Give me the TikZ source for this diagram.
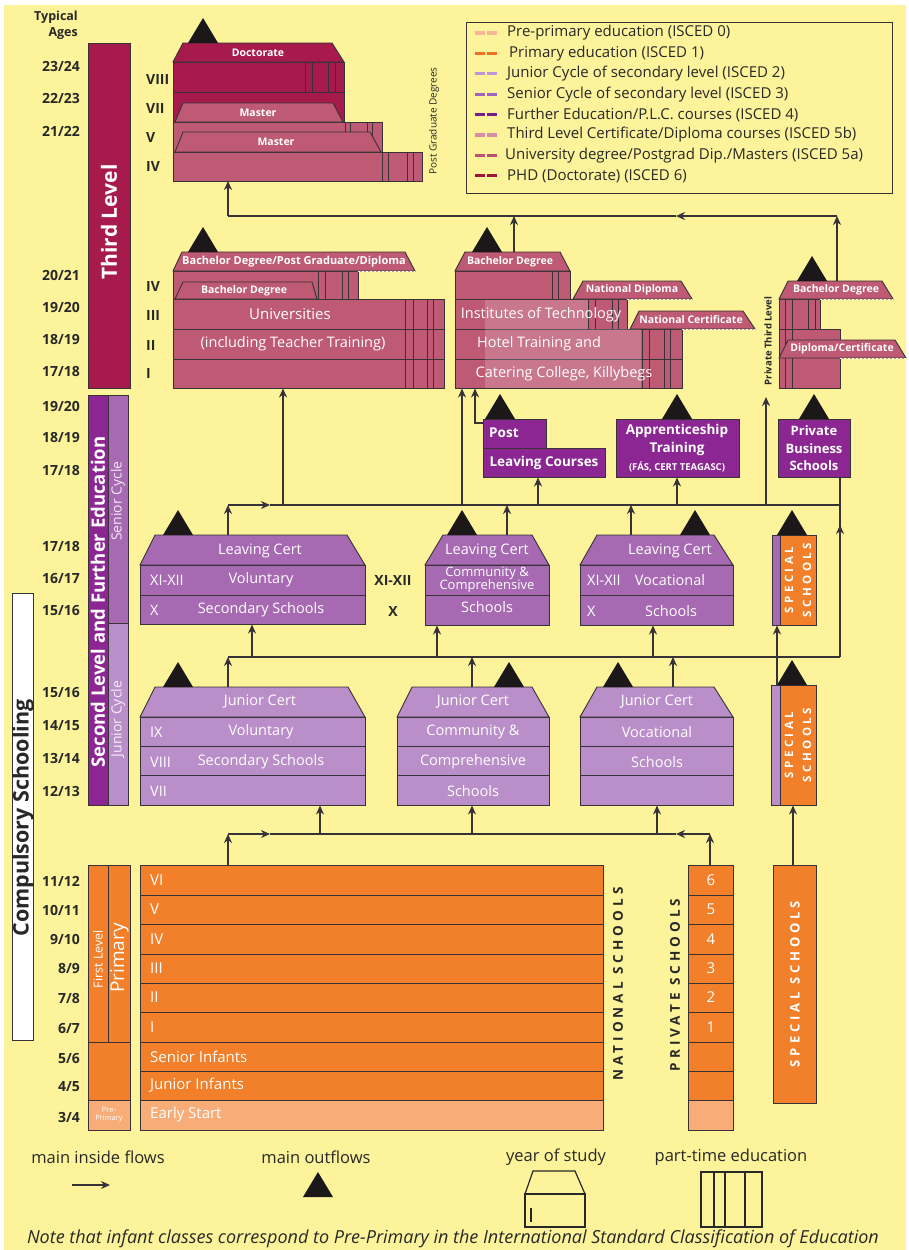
\documentclass[tikz,border=0pt]{standalone}
\usepackage{fontspec}
\setmainfont{Open Sans}
\newfontfamily\spc[LetterSpace=30]{Open Sans}
\usetikzlibrary{arrows.meta}
\definecolor{bgy}{RGB}{252,243,154}
\definecolor{phd}{RGB}{166,27,76}
\definecolor{univ}{RGB}{190,90,115}
\definecolor{further}{RGB}{140,38,146}
\definecolor{senior}{RGB}{166,105,178}
\definecolor{junior}{RGB}{186,142,200}
\definecolor{prim}{RGB}{242,128,42}
\definecolor{preprim}{RGB}{248,173,120}
\definecolor{linec}{RGB}{55,50,55}
\definecolor{txtc}{RGB}{40,40,40}
\definecolor{tricol}{RGB}{28,24,26}
\definecolor{lg0}{RGB}{248,182,150}
\definecolor{lg1}{RGB}{240,110,40}
\definecolor{lg2}{RGB}{190,150,215}
\definecolor{lg3}{RGB}{160,100,190}
\definecolor{lg4}{RGB}{120,30,140}
\definecolor{lg5}{RGB}{215,140,170}
\definecolor{lg6}{RGB}{190,80,115}
\definecolor{lg7}{RGB}{160,20,60}
\newcommand\xblk[6]{\node[blkst, fill=#6, anchor=north west, inner sep=0pt, outer sep=0pt, minimum width={(#4)-(#2)}, minimum height={(#5)-(#3)}] (#1) at (#2,#3) {};}
\newcommand\xroof[7]{\filldraw[blkst, fill=#7] (#5,#2) -- (#3,#1) -- (#4,#1) -- (#6,#2) -- cycle;}
\newcommand\xpt[3]{\foreach \xx in {#3} {\draw[ptl] (\xx,#1) -- (\xx,#2);}}
\newcommand\xtri[2]{\fill[tricol] (#1,#2) -- ++(-15,25) -- ++(30,0) -- cycle;}
\newcommand\xdash[3]{\draw[white, line width=1pt, dash pattern=on 2pt off 2pt] (#2,#1) -- (#3,#1);}
\tikzset{
 blkst/.style={draw=linec, line width=0.9pt},
 ptl/.style={draw=linec, line width=0.9pt},
 flowline/.style={draw=linec, line width=1.7pt},
 flow/.style={flowline, -{Stealth[length=9pt,width=8pt]}},
 boxl/.style={text=white, inner sep=0pt, font=\fontsize{14.5}{16}\selectfont},
 boxb/.style={text=white, inner sep=0pt, align=center, font=\bfseries\fontsize{13.5}{17.5}\selectfont},
 roofl/.style={text=white, inner sep=0pt, font=\bfseries\fontsize{10.5}{11}\selectfont},
 age/.style={text=txtc, inner sep=0pt, anchor=east, font=\bfseries\fontsize{14}{16}\selectfont},
 roman/.style={text=txtc, inner sep=0pt, anchor=west, font=\bfseries\fontsize{14}{16}\selectfont},
 vlab/.style={rotate=90, inner sep=0pt},
 legt/.style={text=txtc, inner sep=0pt, anchor=west, font=\fontsize{15}{16}\selectfont},
 blab/.style={text=txtc, inner sep=0pt, font=\fontsize{16.5}{18}\selectfont}
}
\begin{document}
\begin{tikzpicture}[x=1pt,y=-1pt]
\useasboundingbox (0,0) rectangle (909,1250);
\fill[white] (0,0) rectangle (909,1250);
\fill[bgy] (4,5) rectangle (906,1250);

% ---------- ages ----------
\node[age, align=right, font=\bfseries\fontsize{12.5}{16}\selectfont] (typ) at (78,25) {Typical\\Ages};
\foreach \yy/\a/\b [count=\i] in {66/23/24, 98/22/23, 131/21/22, 275/20/21, 307/19/20, 340/18/19, 372/17/18, 406/19/20, 438/18/19, 471/17/18, 546/17/18, 579/16/17, 611/15/16, 693/15/16, 726/14/15, 758/13/14, 791/12/13, 881/11/12, 910/10/11, 939/9/10, 968/8/9, 998/7/8, 1028/6/7, 1058/5/6, 1087/4/5, 1117/3/4}
  {\node[age] (age\i) at (80,\yy) {\a/\b};}
\foreach \yy/\r [count=\i] in {80/VIII, 109/VII, 138/V, 167/IV, 286/IV, 315/III, 345/II, 373/I}
  {\node[roman] (rom\i) at (146,\yy) {\r};}

% ---------- level bars ----------
\xblk{tlbar}{88}{43}{130}{388}{phd}
\node[vlab, text=white, font=\bfseries\fontsize{21}{22}\selectfont] (tltxt) at (109,222) {Third Level};
\xblk{slbar}{88}{395}{108}{805}{further}
\xblk{scbar}{108}{395}{128}{623}{senior}
\xblk{jcbar}{108}{623}{128}{805}{junior}
\node[vlab, text=white, font=\bfseries\fontsize{18.5}{19}\selectfont] (sltxt) at (98,602) {Second Level and Further Education};
\node[vlab, text=white!85!senior, font=\fontsize{14}{15}\selectfont] (sctxt) at (118,501) {Senior Cycle};
\node[vlab, text=white!85!junior, font=\fontsize{14}{15}\selectfont] (jctxt) at (118,719) {Junior Cycle};
\xblk{compbox}{12}{593}{33}{1040}{white}
\node[vlab, text=txtc, font=\bfseries\fontsize{21.5}{22}\selectfont] (comptxt) at (23,818) {Compulsory Schooling};

% ---------- doctorate / masters ----------
\xblk{phd8}{173}{62}{344}{92}{phd}
\xblk{phd7}{173}{92}{344}{122}{phd}
\xblk{pg5}{173}{122}{382}{152}{univ}
\xblk{pg4}{173}{152}{422}{181}{univ}
\xpt{62}{92}{305,312,328,335}
\xpt{122}{152}{345,350,367,372}
\xpt{152}{181}{382,388,407,413}
\xroof{43}{62}{183}{332}{173}{344}{phd}
\node[roofl] (docl) at (258,53) {Doctorate};
\xroof{103}{122}{183}{333}{175}{343}{univ}
\node[roofl] (ms1) at (258,113) {Master};
\xroof{132}{152}{183}{370}{175}{381}{univ}
\node[roofl] (ms2) at (276,142) {Master};
\xtri{203}{18}
\node[vlab, text=txtc, font=\fontsize{10}{11}\selectfont] (pgd) at (434,121) {Post Graduate Degrees};

% ---------- universities ----------
\xblk{uni4}{173}{271}{358}{299}{univ}
\xblk{uni3}{173}{299}{444}{329}{univ}
\xblk{uni2}{173}{329}{444}{359}{univ}
\xblk{uni1}{173}{359}{444}{388}{univ}
\xpt{271}{299}{318,325,342,348}
\xpt{299}{388}{405,413,427,433}
\xroof{252}{271}{182}{405}{173}{415}{univ}
\xdash{271}{358}{415}
\node[roofl, font=\bfseries\fontsize{11}{11}\selectfont] (bpgd) at (294,262) {Bachelor Degree/Post Graduate/Diploma};
\xroof{282}{299}{183}{312}{175}{317}{univ}
\node[roofl] (bd1) at (244,290.5) {Bachelor Degree};
\node[boxl, font=\fontsize{15}{16}\selectfont] (unit1) at (290,314) {Universities};
\node[boxl, font=\fontsize{14.5}{16}\selectfont] (unit2) at (293,344) {(including Teacher Training)};
\xtri{203}{227}

% ---------- institutes of technology ----------
\xblk{it4}{455}{271}{570}{299}{univ}
\xblk{it3}{455}{299}{627}{329}{univ}
\xblk{it2}{455}{329}{682}{359}{univ}
\xblk{it1}{455}{359}{682}{388}{univ}
\fill[white, opacity=0.18] (485,300) rectangle (588,329);
\fill[white, opacity=0.18] (485,329) rectangle (641,387.5);
\xpt{271}{299}{552,558}
\xpt{299}{329}{588,595,612,618}
\xpt{329}{388}{642,649,664,670}
\xroof{252}{271}{465}{560}{455}{570}{univ}
\node[roofl] (bd2) at (510,262) {Bachelor Degree};
\xroof{281}{299}{583}{681}{573}{692}{univ}
\xdash{299}{627}{692}
\node[roofl] (nd) at (632,290) {National Diploma};
\xroof{311}{329}{639}{743}{630}{755}{univ}
\xdash{329}{682}{755}
\node[roofl] (nc) at (691,320) {National Certificate};
\node[boxl] (itt1) at (541,315) {Institutes of Technology};
\node[boxl] (itt2) at (539,344) {Hotel Training and};
\node[boxl] (itt3) at (564,374) {Catering College, Killybegs};
\xtri{487}{227}

% ---------- private third level ----------
\xblk{ptA}{779}{299}{820}{329}{univ}
\xblk{ptB}{779}{329}{840}{388}{univ}
\xpt{299}{388}{785,792}
\xpt{299}{329}{808,815}
\xroof{281}{299}{788}{882}{779}{893}{univ}
\xdash{299}{820}{893}
\node[roofl] (bd3) at (836,290) {Bachelor Degree};
\xroof{340}{358}{788}{895}{779}{906}{univ}
\xdash{358}{840}{906}
\node[roofl] (dipc) at (842,349) {Diploma/Certificate};
\xtri{812}{256}
\node[vlab, text=txtc, font=\bfseries\fontsize{9.5}{10}\selectfont] (ptltxt) at (768,341) {Private Third Level};

% ---------- further education ----------
\xblk{plcA}{483}{419}{546}{448}{further}
\xblk{plcB}{483}{448}{605}{477}{further}
\node[boxb, anchor=west] (post) at (489,433) {Post};
\node[boxb] (lcrs) at (544,463) {Leaving Courses};
\xblk{appr}{616}{419}{739}{477}{further}
\node[boxb] (apprt) at (677,440) {Apprenticeship\\Training};
\node[boxb, font=\bfseries\fontsize{9.5}{10}\selectfont] (fas) at (677,467) {(FÁS, CERT TEAGASC)};
\xblk{pbs}{778}{419}{850}{477}{further}
\node[boxb, font=\bfseries\fontsize{13}{17.5}\selectfont] (pbst) at (814,448.5) {Private\\Business\\Schools};
\xtri{500}{394}
\xtri{677}{394}
\xtri{814}{394}

% ---------- leaving cert ----------
\xroof{535}{565}{155}{347}{140}{365}{senior}
\xblk{vlc1}{140}{565}{365}{595}{senior}
\xblk{vlc2}{140}{595}{365}{624}{senior}
\node[boxl] (vlct) at (260,551) {Leaving Cert};
\node[boxl, anchor=west] (vlcr1) at (150,580) {XI-XII};
\node[boxl] (vlcn1) at (261,580) {Voluntary};
\node[boxl, anchor=west] (vlcr2) at (150,610) {X};
\node[boxl] (vlcn2) at (261,610) {Secondary Schools};
\xtri{178}{510}
\node[roman, anchor=center] (xo1) at (393,580) {XI-XII};
\node[roman, anchor=center] (xo2) at (393,611) {X};

\xroof{535}{565}{443}{532}{425}{549}{senior}
\xblk{clc1}{425}{565}{549}{595}{senior}
\xblk{clc2}{425}{595}{549}{625}{senior}
\node[boxl] (clct) at (487,551) {Leaving Cert};
\node[boxl, align=center, font=\fontsize{13}{13}\selectfont] (clcn1) at (487,580) {Community \&\\Comprehensive};
\node[boxl] (clcn2) at (487,607) {Schools};
\xtri{462}{510}

\xroof{535}{565}{597}{714}{580}{733}{senior}
\xblk{olc1}{580}{565}{733}{595}{senior}
\xblk{olc2}{580}{595}{733}{625}{senior}
\node[boxl] (olct) at (670,551) {Leaving Cert};
\node[boxl, anchor=west] (olcr1) at (587,580) {XI-XII};
\node[boxl] (olcn1) at (670,580) {Vocational};
\node[boxl, anchor=west] (olcr2) at (587,611) {X};
\node[boxl] (olcn2) at (671,611) {Schools};
\xtri{695}{510}

\xblk{ssA}{772}{535}{780}{625}{senior}
\xblk{ssB}{780}{535}{816}{625}{prim}
\node[vlab, text=white, align=center, font=\spc\bfseries\fontsize{11.5}{18}\selectfont] (sst) at (798,580) {SPECIAL\\SCHOOLS};
\xtri{792}{510}

% ---------- junior cert ----------
\xroof{687}{717}{155}{348}{140}{365}{junior}
\xblk{vjc1}{140}{717}{365}{746}{junior}
\xblk{vjc2}{140}{746}{365}{775}{junior}
\xblk{vjc3}{140}{775}{365}{805}{junior}
\node[boxl] (vjct) at (260,702) {Junior Cert};
\node[boxl, anchor=west] (vjcr1) at (150,732) {IX};
\node[boxl] (vjcn1) at (261,732) {Voluntary};
\node[boxl, anchor=west] (vjcr2) at (150,762) {VIII};
\node[boxl] (vjcn2) at (261,762) {Secondary Schools};
\node[boxl, anchor=west] (vjcr3) at (150,791) {VII};
\xtri{178}{662}

\xroof{687}{717}{412}{532}{397}{549}{junior}
\xblk{cjc1}{397}{717}{549}{746}{junior}
\xblk{cjc2}{397}{746}{549}{775}{junior}
\xblk{cjc3}{397}{775}{549}{805}{junior}
\node[boxl] (cjct) at (473,702) {Junior Cert};
\node[boxl] (cjcn1) at (473,732) {Community \&};
\node[boxl] (cjcn2) at (473,762) {Comprehensive};
\node[boxl] (cjcn3) at (473,791) {Schools};
\xtri{509}{662}

\xroof{687}{717}{597}{714}{580}{733}{junior}
\xblk{ojc1}{580}{717}{733}{746}{junior}
\xblk{ojc2}{580}{746}{733}{775}{junior}
\xblk{ojc3}{580}{775}{733}{805}{junior}
\node[boxl] (ojct) at (657,702) {Junior Cert};
\node[boxl] (ojcn1) at (657,732) {Vocational};
\node[boxl] (ojcn2) at (657,762) {Schools};
\xtri{618}{662}

\xblk{sjA}{771}{685}{780}{805}{junior}
\xblk{sjB}{780}{685}{816}{805}{prim}
\node[vlab, text=white, align=center, font=\spc\bfseries\fontsize{11.5}{18}\selectfont] (sjt) at (798,745) {SPECIAL\\SCHOOLS};
\xtri{792}{660}

% ---------- primary ----------
\xblk{flA}{88}{865}{108}{1042}{prim}
\xblk{flB}{108}{865}{130}{1042}{prim}
\xblk{flC}{88}{1042}{130}{1100}{prim}
\xblk{flD}{88}{1100}{130}{1130}{preprim}
\node[vlab, text=white, font=\fontsize{12.5}{13}\selectfont] (fltxt) at (98,959) {First Level};
\node[vlab, text=white, font=\fontsize{19}{20}\selectfont] (prtxt) at (119.5,958) {Primary};
\node[text=white, inner sep=0pt, align=center, font=\fontsize{7.5}{8}\selectfont] (pptxt) at (109,1115) {Pre-\\Primary};
\foreach \ya/\yb/\lab [count=\i] in {865/895/VI, 895/924/V, 924/954/IV, 954/983/III, 983/1012/II, 1012/1042/I, 1042/1071/Senior Infants, 1071/1100/Junior Infants}
{
  \xblk{nat\i}{140}{\ya}{603}{\yb}{prim}
  \node[boxl, anchor=west, font=\fontsize{15}{16}\selectfont] (natl\i) at (150,{(\ya+\yb)/2}) {\lab};
  \xblk{prv\i}{688}{\ya}{733}{\yb}{prim}
}
\xblk{nat9}{140}{1100}{603}{1130}{preprim}
\node[boxl, anchor=west, font=\fontsize{15}{16}\selectfont] (natl9) at (150,1115) {Early Start};
\xblk{prv9}{688}{1100}{733}{1130}{preprim}
\foreach \n/\yy [count=\i] in {6/880,5/909.5,4/939,3/968.5,2/997.5,1/1027}
  {\node[boxl, font=\fontsize{15}{16}\selectfont] (num\i) at (711,\yy) {\n};}
\node[vlab, text=txtc, font=\spc\bfseries\fontsize{13.5}{14}\selectfont] (natt) at (618,984) {NATIONAL SCHOOLS};
\node[vlab, text=txtc, font=\spc\bfseries\fontsize{13.5}{14}\selectfont] (prvt) at (675,985) {PRIVATE SCHOOLS};
\xblk{spp}{773}{865}{816}{1103}{prim}
\node[vlab, text=white, font=\spc\bfseries\fontsize{13}{14}\selectfont] (sppt) at (795,984) {SPECIAL SCHOOLS};

% ---------- connectors: top ----------
\coordinate (h1L) at (228,216);
\coordinate (h1R) at (837,216);
\coordinate (h1m) at (676,216);
\coordinate (pg4b) at (228,181);
\coordinate (itT) at (514,252);
\coordinate (itU) at (514,216);
\coordinate (pbT) at (837,281);
\draw[flow] (pbT) -- (h1R);
\draw[flow] (h1R) -- (h1m);
\draw[flowline] (h1m) -- (h1L);
\draw[flow] (h1L) -- (pg4b);
\draw[flow] (itT) -- (itU);

% ---------- connectors: level 505 ----------
\coordinate (h2L) at (228,505);
\coordinate (h2m) at (270,505);
\coordinate (h2R) at (840,505);
\coordinate (vlcT) at (228,535);
\draw[flow] (vlcT) -- (h2L);
\draw[flow] (h2L) -- (h2m);
\draw[flowline] (h2m) -- (h2R);
\coordinate (a283) at (283,505); \coordinate (b283) at (283,388.5);
\draw[flow] (a283) -- (b283);
\coordinate (a462) at (462,505); \coordinate (b462) at (462,388.5);
\draw[flow] (a462) -- (b462);
\coordinate (plcL) at (483,423); \coordinate (b475) at (475,388.5);
\draw[flow] (plcL) -| (b475);
\coordinate (clcT) at (507,535); \coordinate (c507) at (507,505);
\draw[flow] (clcT) -- (c507);
\coordinate (a538) at (538,505); \coordinate (plcBot) at (538,477.5);
\draw[flow] (a538) -- (plcBot);
\coordinate (olcT) at (631,535); \coordinate (c631) at (631,505);
\draw[flow] (olcT) -- (c631);
\coordinate (a677) at (677,505); \coordinate (apprBot) at (677,477.5);
\draw[flow] (a677) -- (apprBot);
\coordinate (a766) at (766,505); \coordinate (ptlLab) at (766,397);
\draw[flow] (a766) -- (ptlLab);
\coordinate (r840a) at (840,657); \coordinate (r840m) at (840,525); \coordinate (pbsBot) at (840,477.5);
\draw[flowline] (r840a) -- (pbsBot);
\draw[flow] (r840a) -- (r840m);

% ---------- connectors: level 657 ----------
\coordinate (h3L) at (228,657);
\draw[flowline] (h3L) -- (r840a);
\coordinate (vjcT) at (228,687);
\draw[flow] (vjcT) -- (h3L);
\coordinate (a252) at (252,657); \coordinate (vlcBot) at (252,624.5);
\draw[flow] (a252) -- (vlcBot);
\coordinate (a437) at (437,657); \coordinate (clcBot) at (437,625.5);
\draw[flow] (a437) -- (clcBot);
\coordinate (cjcT) at (472,687); \coordinate (c472) at (472,657);
\draw[flow] (cjcT) -- (c472);
\coordinate (a653) at (653,657); \coordinate (olcBot) at (653,625.5);
\draw[flow] (a653) -- (olcBot);
\coordinate (ojcT) at (673,687); \coordinate (c673) at (673,657);
\draw[flow] (ojcT) -- (c673);
\coordinate (sjT) at (777,685); \coordinate (ssBot) at (777,625.5);
\draw[flow] (sjT) -- (ssBot);

% ---------- connectors: level 834 ----------
\coordinate (h4L) at (228,834);
\coordinate (h4m) at (270,834);
\coordinate (h4R) at (710,834);
\coordinate (h4n) at (676,834);
\coordinate (natT) at (228,865);
\coordinate (prvT) at (710,865);
\draw[flow] (natT) -- (h4L);
\draw[flow] (h4L) -- (h4m);
\draw[flowline] (h4m) -- (h4n);
\draw[flow] (prvT) -- (h4R);
\draw[flow] (h4R) -- (h4n);
\coordinate (a320) at (320,834); \coordinate (vjcBot) at (320,805.5);
\draw[flow] (a320) -- (vjcBot);
\coordinate (a472) at (472,834); \coordinate (cjcBot) at (472,805.5);
\draw[flow] (a472) -- (cjcBot);
\coordinate (a657) at (657,834); \coordinate (ojcBot) at (657,805.5);
\draw[flow] (a657) -- (ojcBot);
\coordinate (sppT) at (793,865); \coordinate (sjBot) at (793,805.5);
\draw[flow] (sppT) -- (sjBot);

% ---------- legend box ----------
\node[draw=linec, line width=1pt, anchor=north west, inner sep=0pt, minimum width=426, minimum height=171] (legbox) at (466,22) {};
\foreach \yy/\cc in {33/lg0, 53.4/lg1, 73.8/lg2, 94.2/lg3, 114.6/lg4, 135/lg5, 155.4/lg6, 175.8/lg7}
  {\draw[\cc, line width=3.2pt, dash pattern=on 10pt off 2pt] (475,\yy) -- (497,\yy);}
\node[legt] (lt0) at (507,33) {Pre-primary education (ISCED 0)};
\node[legt] (lt1) at (509,53.4) {Primary education (ISCED 1)};
\node[legt] (lt2) at (507,73.8) {Junior Cycle of secondary level (ISCED 2)};
\node[legt] (lt3) at (507,94.2) {Senior Cycle of secondary level (ISCED 3)};
\node[legt] (lt4) at (507,114.6) {Further Education/P.L.C. courses (ISCED 4)};
\node[legt] (lt5) at (507,135) {Third Level Certificate/Diploma courses (ISCED 5b)};
\node[legt] (lt6) at (505,155.4) {University degree/Postgrad Dip./Masters (ISCED 5a)};
\node[legt] (lt7) at (507,175.8) {PHD (Doctorate) (ISCED 6)};

% ---------- bottom legend ----------
\node[blab] (bl1) at (98,1157) {main inside flows};
\coordinate (la1) at (72,1185); \coordinate (la2) at (110,1185);
\draw[flow] (la1) -- (la2);
\node[blab] (bl2) at (316,1157) {main outflows};
\xtri{318}{1172}
\node[blab] (bl3) at (556,1157) {year of study};
\filldraw[draw=txtc, fill=bgy, line width=1.2pt] (525,1194) -- (533,1171) -- (575,1171) -- (585,1194) -- cycle;
\draw[txtc, line width=1.2pt] (525,1194) rectangle (585,1227);
\draw[txtc, line width=2pt] (531,1208) -- (531,1222);
\node[blab] (bl4) at (731,1157) {part-time education};
\draw[txtc, line width=1.2pt] (701,1172) rectangle (762,1227);
\foreach \xx in {714,725,745} {\draw[txtc, line width=1.2pt] (\xx,1172) -- (\xx,1227);}
\node[blab, font=\itshape\fontsize{18}{19}\selectfont] (note) at (453,1239) {Note that infant classes correspond to Pre-Primary in the International Standard Classification of Education};
\end{tikzpicture}
\end{document}
